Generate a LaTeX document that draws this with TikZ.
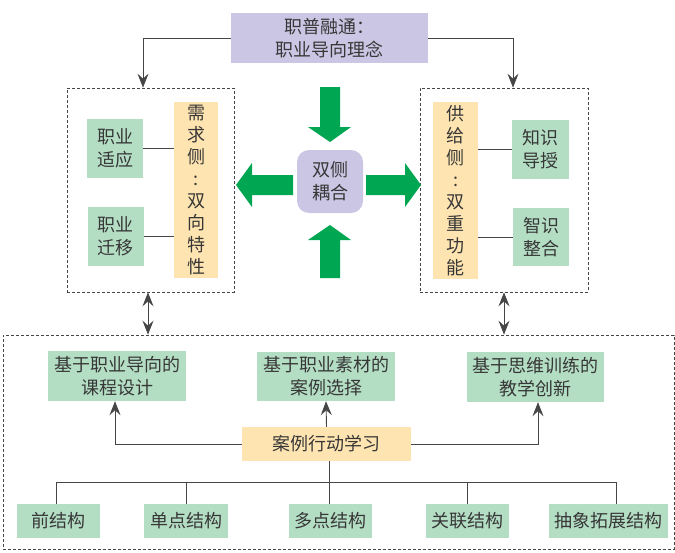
\documentclass[tikz,border=0pt]{standalone}
\usepackage{fontspec}
\newfontfamily\cjk{Noto Sans CJK SC}
\usetikzlibrary{arrows.meta}
\definecolor{gbox}{RGB}{180,222,196}
\definecolor{obox}{RGB}{254,228,176}
\definecolor{lbox}{RGB}{202,198,228}
\definecolor{garrow}{RGB}{0,166,81}
\definecolor{tcol}{RGB}{55,55,55}
\definecolor{lcol}{RGB}{70,70,70}
\begin{document}
\begin{tikzpicture}[x=1pt,y=-1pt,
  txt/.style={font=\cjk\fontsize{18}{23}\selectfont, text=tcol, align=center, inner sep=0pt},
  gb/.style={txt, fill=gbox},
  ob/.style={txt, fill=obox},
  lb/.style={txt, fill=lbox},
  vt/.style={txt, fill=obox, font=\cjk\fontsize{18}{22}\selectfont},
  dbox/.style={draw=lcol, line width=0.7pt, dash pattern=on 3pt off 2pt, inner sep=0pt},
  conn/.style={draw=lcol, line width=0.9pt},
  tip/.style={Stealth[length=14pt,width=11pt,inset=5pt]},
  arr/.style={conn, -{Stealth[length=14pt,width=11pt,inset=5pt]}},
  darr/.style={conn, {Stealth[length=14pt,width=11pt,inset=5pt]}-{Stealth[length=14pt,width=11pt,inset=5pt]}},
  bigarr/.style={fill=garrow}
]
\useasboundingbox (0,0) rectangle (675,552);

% top box
\node[lb, minimum width=197pt, minimum height=50pt] (top) at (329.5,38) {职普融通：\\职业导向理念};

% dashed side boxes
\node[dbox, minimum width=167pt, minimum height=204pt] (L) at (150.5,190) {};
\node[dbox, minimum width=168pt, minimum height=204pt] (R) at (504,190) {};

% left content
\node[gb, minimum width=56pt, minimum height=59pt] (g1) at (115,148.5) {职业\\适应};
\node[gb, minimum width=56pt, minimum height=59pt] (g2) at (115.5,236.5) {职业\\迁移};
\node[vt, minimum width=44pt, minimum height=176pt] (o1) at (196,190) {需\\求\\侧\\:\\双\\向\\特\\性};

% right content
\node[vt, minimum width=45pt, minimum height=177pt] (o2) at (455.5,190.5) {供\\给\\侧\\:\\双\\重\\功\\能};
\node[gb, minimum width=57pt, minimum height=59pt] (g3) at (540.5,149.5) {知识\\导授};
\node[gb, minimum width=56pt, minimum height=58pt] (g4) at (541,237) {智识\\整合};

\draw[conn] (g1.east) -- (o1.west |- g1.east);
\draw[conn] (g2.east) -- (o1.west |- g2.east);
\draw[conn] (g3.west) -- (o2.east |- g3.west);
\draw[conn] (g4.west) -- (o2.east |- g4.west);

% center node
\node[lb, rounded corners=12pt, minimum width=66pt, minimum height=63pt] (c) at (330,181.5) {双侧\\耦合};

% big green arrows
\fill[bigarr] (320,87) -- (340,87) -- (340,127) -- (351,127) -- (330,142) -- (308,127) -- (320,127) -- cycle;
\fill[bigarr] (320,278) -- (340,278) -- (340,240) -- (351,240) -- (330,225) -- (308,240) -- (320,240) -- cycle;
\fill[bigarr] (293,175) -- (252,175) -- (252,163) -- (236,185) -- (252,207) -- (252,195) -- (293,195) -- cycle;
\fill[bigarr] (366,175) -- (405,175) -- (405,163) -- (421,185) -- (405,207) -- (405,195) -- (366,195) -- cycle;

% top connectors
\draw[arr] (top.west) -| ([xshift=-7.5pt]L.north);
\draw[arr] (top.east) -| ([xshift=9pt]R.north);

% bottom dashed box
\node[dbox, minimum width=671pt, minimum height=214pt] (B) at (338.5,442) {};

\draw[darr] ([xshift=-2.5pt]L.south) -- ([xshift=-2.5pt]L.south |- B.north);
\draw[darr] (R.south) -- (R.south |- B.north);

% bottom content
\node[gb, minimum width=138pt, minimum height=50pt] (c1) at (117,376) {基于职业导向的\\课程设计};
\node[gb, minimum width=138pt, minimum height=49pt] (c2) at (326,376.5) {基于职业素材的\\案例选择};
\node[gb, minimum width=137pt, minimum height=50pt] (c3) at (535.5,377) {基于思维训练的\\教学创新};
\node[ob, minimum width=169pt, minimum height=34pt] (case) at (326.5,444) {案例行动学习};

\draw[arr] (case.west) -| ([xshift=-2pt]c1.south);
\draw[arr] (case.north) -- (c2.south);
\draw[arr] (case.east) -| ([xshift=2.5pt]c3.south);

\node[gb, minimum width=83pt, minimum height=34pt] (m1) at (58.5,521) {前结构};
\node[gb, minimum width=84pt, minimum height=34pt] (m2) at (186,521) {单点结构};
\node[gb, minimum width=83pt, minimum height=34pt] (m3) at (330.5,521) {多点结构};
\node[gb, minimum width=83pt, minimum height=34pt] (m4) at (467.5,521) {关联结构};
\node[gb, minimum width=119pt, minimum height=34pt] (m5) at (608.5,521) {抽象拓展结构};

\coordinate (bus) at (0,482);
\draw[conn] ([xshift=2.5pt]case.south) -- ([xshift=2.5pt]case.south |- m3.north);
\draw[conn] ([xshift=-2.5pt]m1.north) -- ([xshift=-2.5pt]m1.north |- bus) -- ([xshift=7.5pt]m5.north |- bus) -- ([xshift=7.5pt]m5.north);
\draw[conn] (m2.north) -- (m2.north |- bus);
\draw[conn] (m4.north) -- (m4.north |- bus);
\end{tikzpicture}
\end{document}
